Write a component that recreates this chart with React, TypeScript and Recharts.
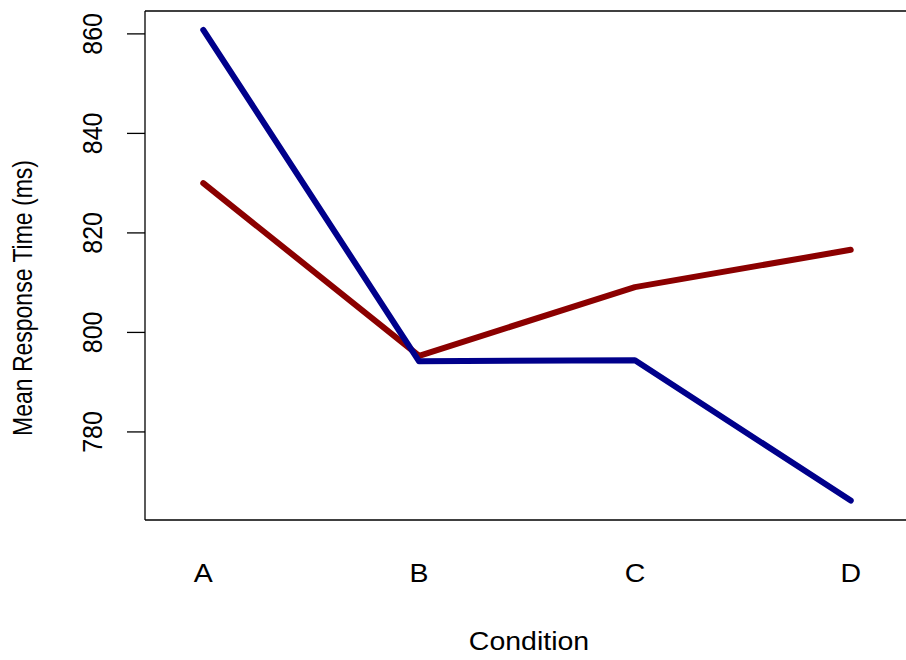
import { LineChart, Line, XAxis, YAxis, ReferenceLine } from 'recharts'

// ── Mean response time by condition ──────────────────────────────────────────

const CONDITIONS = ['A', 'B', 'C', 'D']
const SERIES_BLUE = [860.8, 794.2, 794.4, 766.2]
const SERIES_RED = [830.0, 795.3, 809.1, 816.6]
const Y_TICKS = [780, 800, 820, 840, 860]

const data = CONDITIONS.map((c, i) => ({
  idx: i,
  label: c,
  blue: SERIES_BLUE[i],
  red: SERIES_RED[i],
}))

const FONT = '"Liberation Sans", Arial, sans-serif'
const X_DOMAIN: [number, number] = [-0.27, 3.27]
const Y_DOMAIN: [number, number] = [762.3, 864.6]
// the reference text is a bit wider than tall
const SX = 1.14

function XTick({ x, payload }: any) {
  return (
    <text
      transform={`translate(${x}, 582) scale(${SX}, 1)`}
      textAnchor="middle"
      fontSize={25}
      fontFamily={FONT}
      fill="#000"
    >
      {CONDITIONS[payload.value]}
    </text>
  )
}

function YTick({ y, payload }: any) {
  return (
    <text
      transform={`translate(102, ${y}) scale(${SX}, 1) rotate(-90)`}
      textAnchor="middle"
      fontSize={25}
      fontFamily={FONT}
      fill="#000"
    >
      {payload.value}
    </text>
  )
}

export default function App() {
  return (
    <div style={{ position: 'absolute', left: 0, top: 0, width: 906, height: 660, overflow: 'hidden', background: '#fff' }}>
      <LineChart
        width={912}
        height={660}
        data={data}
        margin={{ top: 11, right: 3, bottom: 0, left: 0 }}
      >
        <XAxis
          dataKey="idx"
          type="number"
          domain={X_DOMAIN}
          ticks={[0, 1, 2, 3]}
          tickLine={false}
          axisLine={{ stroke: '#000', strokeWidth: 1.3 }}
          tick={<XTick />}
          height={140}
          interval={0}
          allowDataOverflow
        />
        <YAxis
          type="number"
          domain={Y_DOMAIN}
          ticks={Y_TICKS}
          tickSize={18}
          tickLine={{ stroke: '#000', strokeWidth: 1.3 }}
          axisLine={{ stroke: '#000', strokeWidth: 1.3 }}
          tick={<YTick />}
          width={145}
          interval={0}
          allowDataOverflow
        />
        {/* top edge of the box; the right edge falls outside the picture */}
        <ReferenceLine y={Y_DOMAIN[1]} stroke="#000" strokeWidth={1.3} ifOverflow="visible" />
        <Line
          type="linear"
          dataKey="red"
          stroke="#8B0000"
          strokeWidth={6}
          strokeLinecap="round"
          strokeLinejoin="round"
          dot={false}
          activeDot={false}
          isAnimationActive={false}
        />
        <Line
          type="linear"
          dataKey="blue"
          stroke="#00008B"
          strokeWidth={6}
          strokeLinecap="round"
          strokeLinejoin="round"
          dot={false}
          activeDot={false}
          isAnimationActive={false}
        />
        <text
          transform={`translate(529, 650) scale(${SX}, 1)`}
          textAnchor="middle"
          fontSize={25}
          fontFamily={FONT}
          fill="#000"
        >
          Condition
        </text>
        <text
          transform={`translate(32, 298) scale(1.18, 1) rotate(-90)`}
          textAnchor="middle"
          fontSize={23}
          fontFamily={FONT}
          fill="#000"
        >
          Mean Response Time (ms)
        </text>
      </LineChart>
    </div>
  )
}
